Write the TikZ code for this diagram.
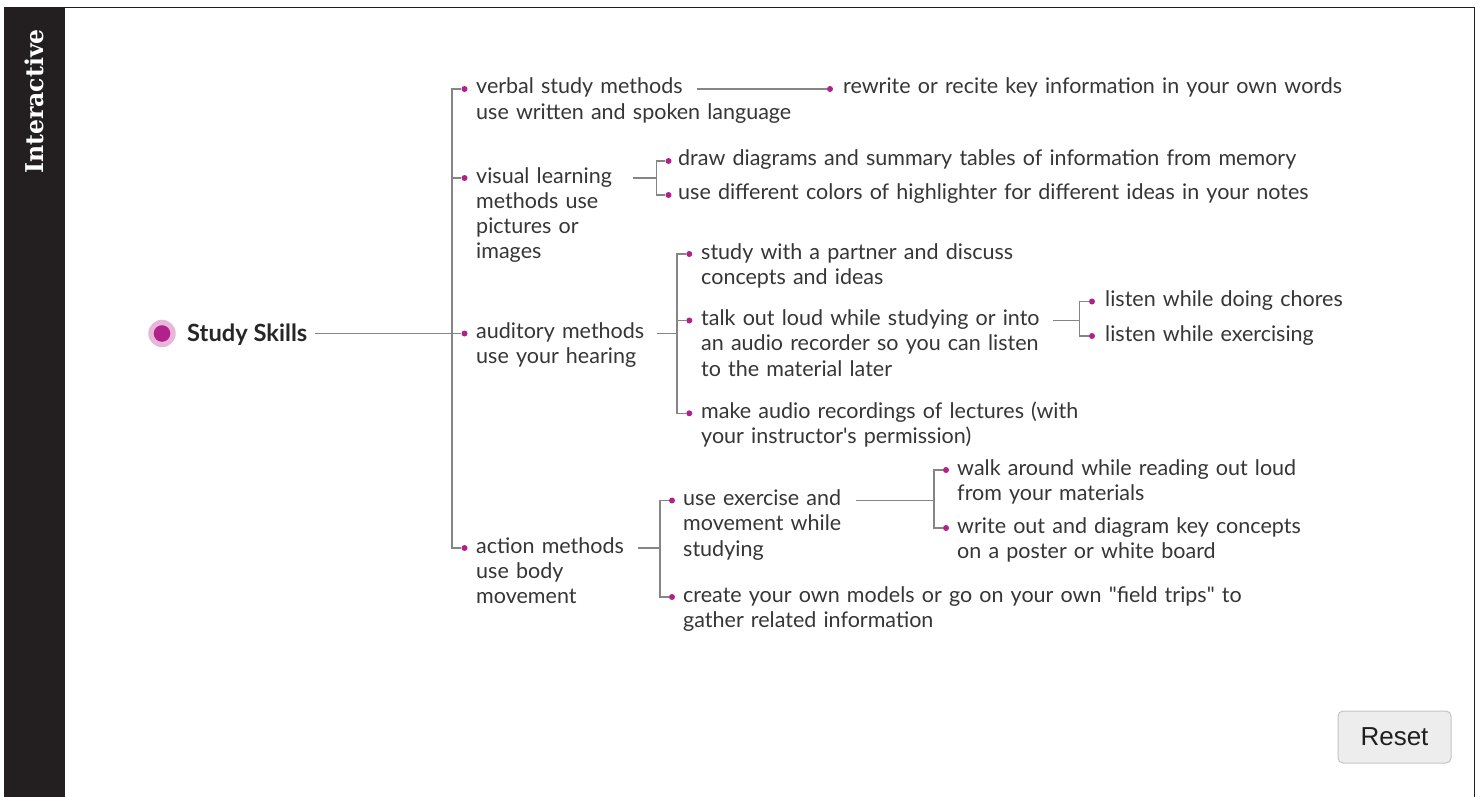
\documentclass[tikz,border=0pt]{standalone}
\usepackage{fontspec}
\newfontfamily\lato{Lato}
\newfontfamily\slab{DejaVu Serif}
\newfontfamily\btnfont{Liberation Sans}
\definecolor{sidebar}{HTML}{231F20}
\definecolor{textgray}{HTML}{363636}
\definecolor{dotmag}{HTML}{B2208C}
\definecolor{halo}{HTML}{E6B7D9}
\definecolor{linegray}{HTML}{858585}
\definecolor{btnfill}{HTML}{EDEDED}
\definecolor{btnline}{HTML}{C4C4C4}
\begin{document}
\begin{tikzpicture}[x=1pt,y=-1pt,
  txt/.style={anchor=base west, inner sep=0pt, align=left, text width=640pt, text=textgray,
    font=\lato\fontsize{21.5}{25.3}\selectfont},
  dot/.style={circle, fill=dotmag, inner sep=0pt, minimum size=6pt},
  conn/.style={draw=linegray, line width=1.1pt}]
\useasboundingbox (0,0) rectangle (1478,797);
% frame
\fill[white] (0,0) rectangle (1478,797);
\fill[sidebar] (4,8) rectangle (65,797);
\draw[sidebar, line width=1pt] (4,7.5) -- (1474,7.5) -- (1474,797);
\node[rotate=90, anchor=base, inner sep=0pt, text=white, font=\slab\bfseries\fontsize{24.5}{28}\selectfont] (side) at (43.5,101.5) {\scalebox{0.96}[1]{Interactive}};
% root
\node[circle, fill=halo, inner sep=0pt, minimum size=27.4pt] (halo) at (162,333.5) {};
\node[circle, fill=dotmag, inner sep=0pt, minimum size=16.6pt] (root) at (162,333.5) {};
\node[anchor=base west, inner sep=0pt, text=black!85, font=\lato\bfseries\fontsize{23.7}{28}\selectfont] (rootT) at (187,341) {Study Skills};
\coordinate (cRoot) at (315,333.5);
\coordinate (tr) at (452,333.5);
% level 1
\node[dot] (d1) at (464.5,89) {};
\node[dot] (d2) at (464.5,178) {};
\node[dot] (d3) at (464.5,333.5) {};
\node[dot] (d4) at (464.5,548) {};
\node[txt] (t1) at (476,94) {verbal study methods\\use written and spoken language};
\node[txt] (t2) at (476,183) {visual learning\\methods use\\pictures or\\images};
\node[txt] (t3) at (476,338.5) {auditory methods\\use your hearing};
\node[txt] (t4) at (476,553) {action methods\\use body\\movement};
% verbal
\coordinate (cVerb) at (697,89);
\node[dot] (dR) at (830,89) {};
\node[txt] (tR) at (843,94) {rewrite or recite key information in your own words};
% visual
\coordinate (cVis) at (632.5,178);
\coordinate (jVis) at (656.5,178);
\node[dot] (dVa) at (668.5,161) {};
\node[dot] (dVb) at (668.5,195) {};
\node[txt] (tVa) at (678,166) {draw diagrams and summary tables of information from memory};
\node[txt] (tVb) at (678,200) {use different colors of highlighter for different ideas in your notes};
% auditory
\coordinate (cAud) at (657.3,333.5);
\coordinate (jAud) at (677,333.5);
\node[dot] (dAa) at (689.3,254) {};
\node[dot] (dAb) at (689.3,320.5) {};
\node[dot] (dAc) at (689.3,413.3) {};
\node[txt] (tAa) at (701,259) {study with a partner and discuss\\concepts and ideas};
\node[txt] (tAb) at (701,325.5) {talk out loud while studying or into\\an audio recorder so you can listen\\to the material later};
\node[txt] (tAc) at (701,418.3) {make audio recordings of lectures (with\\your instructor's permission)};
% talk
\coordinate (cTalk) at (1053,320.5);
\coordinate (jTalk) at (1079.5,320.5);
\node[dot] (dTa) at (1092,301.5) {};
\node[dot] (dTb) at (1092,336) {};
\node[txt] (tTa) at (1105,306.5) {listen while doing chores};
\node[txt] (tTb) at (1105,341) {listen while exercising};
% action
\coordinate (cAct) at (638,548);
\coordinate (jAct) at (660,548);
\node[dot] (dXa) at (672,500.5) {};
\node[dot] (dXb) at (672,597) {};
\node[txt] (tXa) at (683,505.5) {use exercise and\\movement while\\studying};
\node[txt] (tXb) at (683,602) {create your own models or go on your own "field trips" to\\gather related information};
% exercise
\coordinate (cEx) at (856,500.5);
\coordinate (jEx) at (934,500.5);
\node[dot] (dEa) at (946,470) {};
\node[dot] (dEb) at (946,528) {};
\node[txt] (tEa) at (957,475) {walk around while reading out loud\\from your materials};
\node[txt] (tEb) at (957,533) {write out and diagram key concepts\\on a poster or white board};
% connectors
\draw[conn] (cRoot) -- (tr);
\draw[conn] (d1) -| (tr) |- (d4);
\draw[conn] (tr) |- (d2);
\draw[conn] (tr) -- (d3);
\draw[conn] (cVerb) -- (dR);
\draw[conn] (cVis) -- (jVis);
\draw[conn] (dVa) -| (jVis) |- (dVb);
\draw[conn] (cAud) -- (jAud);
\draw[conn] (dAa) -| (jAud) |- (dAc);
\draw[conn] (jAud) |- (dAb);
\draw[conn] (cTalk) -- (jTalk);
\draw[conn] (dTa) -| (jTalk) |- (dTb);
\draw[conn] (cAct) -- (jAct);
\draw[conn] (dXa) -| (jAct) |- (dXb);
\draw[conn] (cEx) -- (jEx);
\draw[conn] (dEa) -| (jEx) |- (dEb);
% reset button
\node[draw=btnline, fill=btnfill, rounded corners=5pt, line width=1pt, minimum width=113pt, minimum height=52pt, inner sep=0pt, text=black!88, font=\btnfont\fontsize{26}{30}\selectfont] (reset) at (1394.5,737) {Reset};
\end{tikzpicture}
\end{document}
